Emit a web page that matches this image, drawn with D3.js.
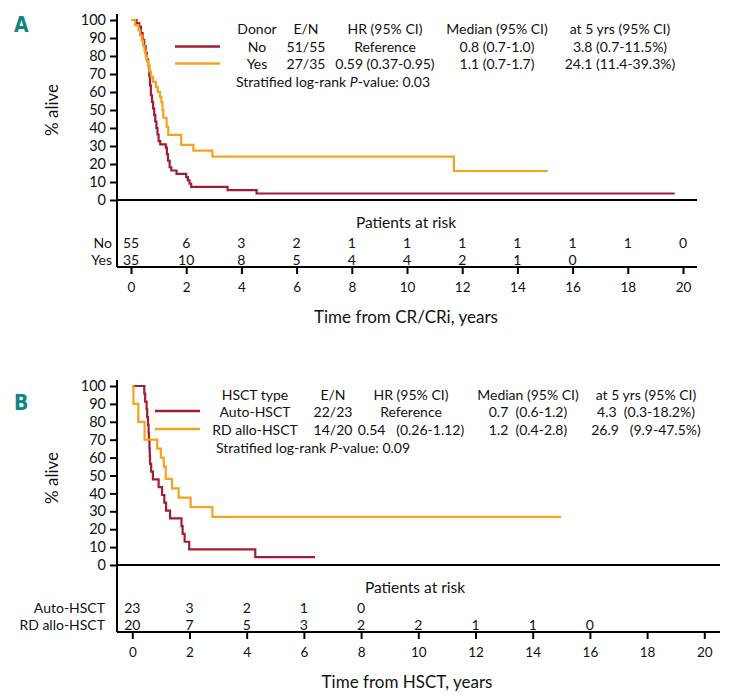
<!DOCTYPE html>
<html><head><meta charset="utf-8">
<script src="https://cdn.jsdelivr.net/npm/d3@7"></script>
<style>
body{margin:0;background:#fff;}
svg text{font-family:Lato,"Open Sans",sans-serif;fill:#111;white-space:pre;}
</style></head>
<body><svg id="c" width="730" height="699"></svg>
<script>
// ---------- data ----------
const xTicks = [0,2,4,6,8,10,12,14,16,18,20];
const yTicks = [0,10,20,30,40,50,60,70,80,90,100];

// Panel A: Donor No / Yes (time in years, % alive)
const noTimes = [0,0.2,0.3,0.36,0.42,0.48,0.53,0.57,0.62,0.66,0.69,0.72,0.76,0.8,0.84,0.88,0.92,0.96,1.0,1.06,1.26,1.3,1.34,1.4,1.46,1.65,2.0,2.06,2.12,2.18,3.5,4.55,19.7];
const noSurv  = [100,98.2,96.4,92.7,89,85.5,81.8,78.2,74.5,69,63.6,58.2,54.5,50.9,47.3,43.6,40,36.4,32.7,30.9,29.1,25.5,21.8,18.2,16.4,14.5,12.7,10.9,9.1,7.3,5.5,3.6,3.6];
const yesTimes = [0,0.15,0.27,0.33,0.39,0.44,0.49,0.53,0.58,0.62,0.66,0.72,0.8,0.9,0.97,1.05,1.1,1.14,1.17,1.29,1.35,1.82,2.26,2.95,11.7,15.1];
const yesSurv  = [100,97.1,94.3,91.4,88.6,85.7,82.9,80,77.1,74.3,71.4,68.6,65.7,62.9,60,57.1,54.3,50,45.7,40.7,36.2,30.6,27.4,24.1,16.1,16.1];

// Panel B: Auto-HSCT / RD allo-HSCT
const autoTimes = [0,0.42,0.45,0.5,0.52,0.55,0.57,0.58,0.6,0.61,0.62,0.66,0.72,0.92,1.04,1.12,1.18,1.32,1.72,1.76,1.83,1.99,4.3,6.39];
const autoSurv  = [100,95.7,91.3,87,82.6,78.3,73.9,69.6,65.2,60.9,56.5,52.2,47.8,43.5,39.1,34.8,30.4,26.1,21.7,17.4,13,8.7,4.35,4.35];
const rdTimes = [0,0.04,0.21,0.43,0.87,1.0,1.1,1.17,1.39,1.62,2.04,2.8,14.99];
const rdSurv  = [100,90,80,70,65,60,55,48.1,42.8,37.6,32.3,26.9,26.9];

// Patients at risk
const riskNo   = [55,6,3,2,1,1,1,1,1,1,0];
const riskYes  = [35,10,8,5,4,4,2,1,0];
const riskAuto = [23,3,2,1,0];
const riskRD   = [20,7,5,3,2,2,1,1,0];

// Legend tables
const legAHeader = ["Donor","E/N","HR (95% CI)","Median (95% CI)","at 5 yrs (95% CI)"];
const legANo     = ["No","51/55","Reference","0.8 (0.7-1.0)","3.8 (0.7-11.5%)"];
const legAYes    = ["Yes","27/35","0.59 (0.37-0.95)","1.1 (0.7-1.7)","24.1 (11.4-39.3%)"];
const legBHeader = ["HSCT type","E/N","HR (95% CI)","Median (95% CI)","at 5 yrs (95% CI)"];
const legBAuto   = ["Auto-HSCT","22/23","Reference","0.7  (0.6-1.2)","4.3  (0.3-18.2%)"];
const legBRD     = ["RD allo-HSCT","14/20","0.54   (0.26-1.12)","1.2  (0.4-2.8)","26.9   (9.9-47.5%)"];

const RED = "#a11d33", ORANGE = "#f5a21e", TEAL = "#12857e";
const svg = d3.select("#c");

function panel(o){
  const g = svg.append("g");
  const x = d3.scaleLinear().domain([0,20]).range([o.x0,o.x20]);
  const y = d3.scaleLinear().domain([0,100]).range([o.y0,o.y100]);
  // panel letter
  g.append("text").attr("x",14).attr("y",o.letterY).text(o.letter)
    .style("font-size","21px").style("font-weight","bold").style("fill",TEAL)
    .style("font-family","'DejaVu Sans Condensed','Liberation Sans Narrow',Lato,sans-serif");
  // y axis
  const ya = g.append("g").attr("transform",`translate(${o.axisX},0)`)
    .call(d3.axisLeft(y).tickValues(yTicks).tickSize(7).tickPadding(4));
  ya.select(".domain").remove();
  ya.selectAll("line").attr("stroke","#000").attr("stroke-width",2);
  ya.selectAll("text").style("font-size","14.5px").style("font-family","Lato,sans-serif").attr("fill","#111");
  // vertical axis line
  g.append("line").attr("x1",o.axisX).attr("x2",o.axisX).attr("y1",o.yTop).attr("y2",o.yBottom)
    .attr("stroke","#000").attr("stroke-width",2);
  // zero line
  g.append("line").attr("x1",o.axisX).attr("x2",o.xRight).attr("y1",y(0)).attr("y2",y(0))
    .attr("stroke","#000").attr("stroke-width",2);
  // bottom line
  g.append("line").attr("x1",o.axisX).attr("x2",o.xRight).attr("y1",o.yBottom).attr("y2",o.yBottom)
    .attr("stroke","#000").attr("stroke-width",2);
  // x axis ticks
  const xa = g.append("g").attr("transform",`translate(0,${o.yBottom})`)
    .call(d3.axisBottom(x).tickValues(xTicks).tickSize(7).tickPadding(8));
  xa.select(".domain").remove();
  xa.selectAll("line").attr("stroke","#000").attr("stroke-width",2);
  xa.selectAll("text").style("font-size","13.5px").attr("fill","#111");
  // y label
  g.append("text").attr("transform",`translate(58,${o.yLabelY}) rotate(-90)`)
    .attr("text-anchor","middle").style("font-size","17px").text("% alive");
  // x title
  g.append("text").attr("x",o.titleX).attr("y",o.titleY).attr("text-anchor","middle")
    .attr("dy","0.35em").style("font-size","17px").text(o.title);
  // curves
  const line = d3.line().curve(d3.curveStepAfter).x(d=>x(d[0])).y(d=>y(d[1]));
  o.series.forEach(s=>{
    g.append("path").attr("d",line(d3.zip(s.t,s.s))).attr("fill","none")
      .attr("stroke",s.color).attr("stroke-width",2.2);
  });
  // legend
  const rows = o.legend;
  rows.forEach((r,ri)=>{
    r.forEach((txt,ci)=>{
      g.append("text").attr("x",o.legCols[ci]).attr("y",o.legRowsY[ri]).attr("dy","0.35em")
        .attr("text-anchor","middle").style("font-size","14px").text(txt);
    });
  });
  o.series.forEach((s,i)=>{
    g.append("line").attr("x1",o.legLine[0]).attr("x2",o.legLine[1])
      .attr("y1",o.legRowsY[i+1]-1).attr("y2",o.legRowsY[i+1]-1)
      .attr("stroke",s.color).attr("stroke-width",2.5);
  });
  const st = g.append("text").attr("x",o.stratX).attr("y",o.legRowsY[3]).attr("dy","0.35em").style("font-size","14px");
  st.append("tspan").text("Stratified log-rank ");
  st.append("tspan").style("font-style","italic").text("P");
  st.append("tspan").text("-value: "+o.pval);
  // risk table
  g.append("text").attr("x",o.parX).attr("y",o.parY).attr("dy","0.35em").attr("text-anchor","middle")
    .style("font-size","15.5px").text("Patients at risk");
  o.risk.forEach((rk,ri)=>{
    g.append("text").attr("x",o.riskLabelX).attr("y",o.riskY[ri]).attr("dy","0.35em")
      .attr("text-anchor","end").style("font-size","14px").text(rk.label);
    rk.values.forEach((v,i)=>{
      g.append("text").attr("x",x(xTicks[i])).attr("y",o.riskY[ri]).attr("dy","0.35em")
        .attr("text-anchor","middle").style("font-size","14px").text(v);
    });
  });
}

panel({
  letter:"A", letterY:32, x0:131, x20:683, y0:200, y100:20, axisX:117, yTop:14, yBottom:267, xRight:697,
  yLabelY:110, titleX:406, titleY:317, title:"Time from CR/CRi, years",
  series:[{t:noTimes,s:noSurv,color:RED},{t:yesTimes,s:yesSurv,color:ORANGE}],
  legend:[legAHeader,legANo,legAYes], legCols:[257,306,385,497,620], legRowsY:[29.5,47.5,64.5,82],
  legLine:[175,220], stratX:236, pval:"0.03",
  parX:406, parY:223, riskLabelX:112, riskY:[243,260],
  risk:[{label:"No",values:riskNo},{label:"Yes",values:riskYes}]
});
panel({
  letter:"B", letterY:410, x0:132.3, x20:704.3, y0:565, y100:386, axisX:117, yTop:380, yBottom:632, xRight:720,
  yLabelY:478, titleX:407, titleY:682, title:"Time from HSCT, years",
  series:[{t:autoTimes,s:autoSurv,color:RED},{t:rdTimes,s:rdSurv,color:ORANGE}],
  legend:[legBHeader,legBAuto,legBRD], legCols:[255,333,411,528,646], legRowsY:[395,412,430,448],
  legLine:[155,200], stratX:216, pval:"0.09",
  parX:415, parY:588, riskLabelX:105, riskY:[608,625],
  risk:[{label:"Auto-HSCT",values:riskAuto},{label:"RD allo-HSCT",values:riskRD}]
});
</script></body></html>
